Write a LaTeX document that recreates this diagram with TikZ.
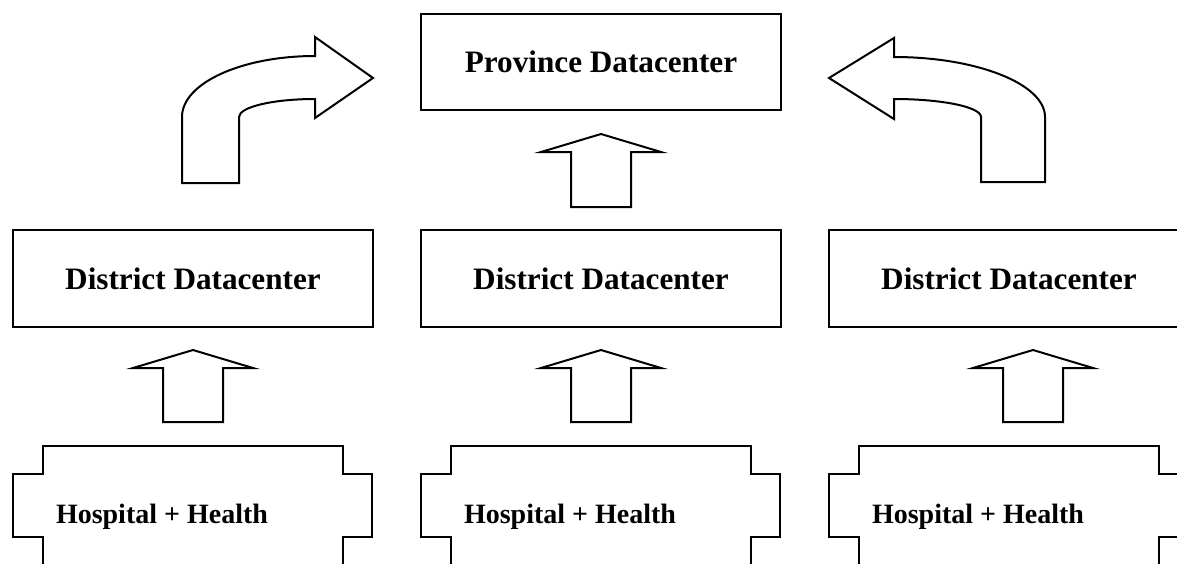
\documentclass[tikz,border=0pt]{standalone}
\usepackage{fontspec}
\setmainfont{Liberation Serif}

\begin{document}
\begin{tikzpicture}[x=0.5pt,y=-0.5pt,line width=1pt,line join=miter,
    box/.style={draw,minimum width=180pt,minimum height=48.5pt,inner sep=0pt,font=\fontsize{15.6}{18}\selectfont\bfseries},
    hosp/.style={inner sep=0pt,anchor=base west,font=\fontsize{14}{17}\selectfont\bfseries}]
                \useasboundingbox[clip] (0,0) rectangle (1177,563);

                % top level
                \node[box,minimum height=48pt] (prov) at (601,62) {Province Datacenter};

                % districts and hospitals
                \foreach \i/\o in {1/0,2/408,3/816}{
                    \node[box] (d\i) at (193+\o,278.5) {District Datacenter};
                    \draw (43+\o,600) -- (43+\o,537) -- (13+\o,537) -- (13+\o,474) -- (43+\o,474) -- (43+\o,446)
                          -- (343+\o,446) -- (343+\o,474) -- (372+\o,474) -- (372+\o,537) -- (343+\o,537) -- (343+\o,600);
                    \node[hosp] (h\i) at (55+\o,523) {Hospital + Health};
                }

                % up arrows hospital -> district
                \foreach \c in {193,601,1033}
                    \draw (\c,350) -- (\c+60,368) -- (\c+30,368) -- (\c+30,422) -- (\c-30,422) -- (\c-30,368) -- (\c-60,368) -- cycle;

                % up arrow district -> province
                \draw (601,134) -- (661,152) -- (631,152) -- (631,207) -- (571,207) -- (571,152) -- (541,152) -- cycle;

                % bent arrows
                \draw (182,183) -- (182,117) .. controls (182,83) and (242,56) .. (315,56) -- (315,37) -- (373,78)
                      -- (315,118) -- (315,99) .. controls (273,99) and (239,107) .. (239,117) -- (239,183) -- cycle;
                \draw (1045,182) -- (1045,117) .. controls (1045,84) and (977,57) .. (894,57) -- (894,38) -- (829,78)
                      -- (894,119) -- (894,99) .. controls (942,99) and (981,107) .. (981,117) -- (981,182) -- cycle;
            \end{tikzpicture}
\end{document}
